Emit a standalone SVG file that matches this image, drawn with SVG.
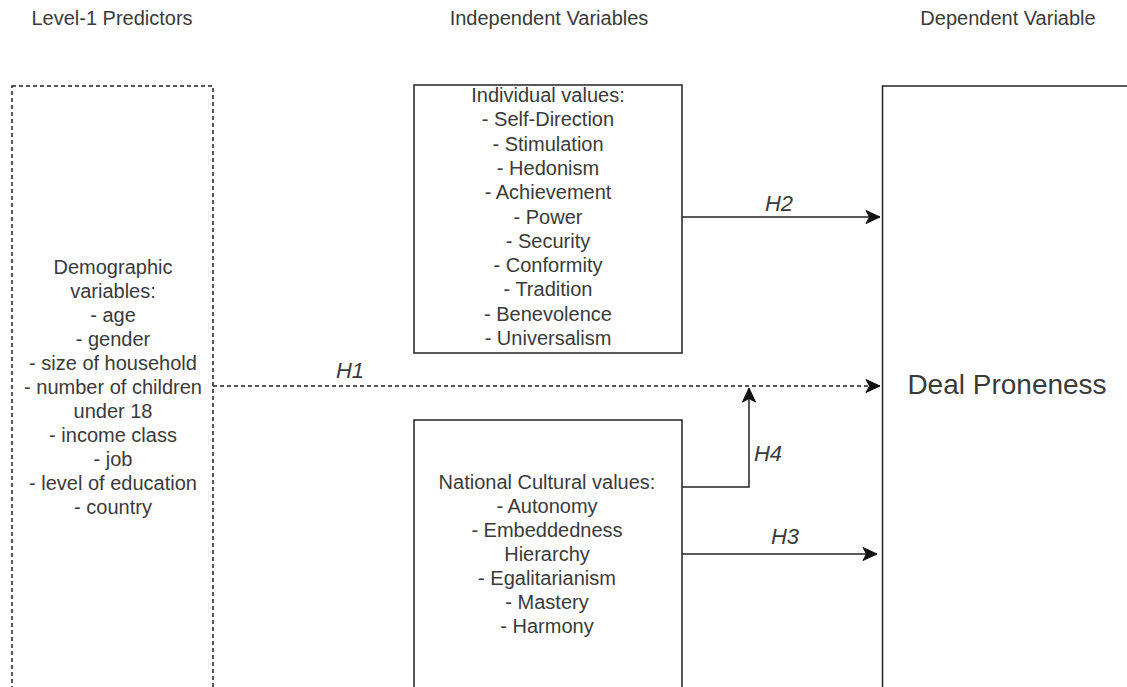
<svg xmlns="http://www.w3.org/2000/svg" width="1127" height="687" viewBox="0 0 1127 687">
  <style>
    .txt { font-family: "Liberation Sans", Arial, Helvetica, sans-serif; font-size: 20px; fill: #3a3a3a; text-anchor: middle; }
    .hyp { font-family: "Liberation Sans", Arial, Helvetica, sans-serif; font-size: 22px; font-style: italic; fill: #3a3a3a; text-anchor: middle; }
    .big { font-family: "Liberation Sans", Arial, Helvetica, sans-serif; font-size: 28px; fill: #3a3a3a; text-anchor: middle; }
    .box { fill: #ffffff; stroke: #222222; stroke-width: 1.5; }
    .dashbox { fill: #ffffff; stroke: #222222; stroke-width: 1.5; stroke-dasharray: 4 3; }
    .edge { fill: none; stroke: #222222; stroke-width: 1.5; }
    .dashed { stroke-dasharray: 4 3; }
  </style>
  <defs>
    <marker id="arrow" markerUnits="userSpaceOnUse" markerWidth="16" markerHeight="14" refX="15" refY="7" orient="auto" overflow="visible">
      <path d="M1,0.5 L15,7 L1,13.5 L4.5,7 Z" fill="#111111" stroke="#111111" stroke-width="1" stroke-linejoin="miter"/>
    </marker>
  </defs>

  <!-- column headings -->
  <g id="headings">
    <text class="txt" x="112" y="25">Level-1 Predictors</text>
    <text class="txt" x="549" y="25">Independent Variables</text>
    <text class="txt" x="1008" y="25">Dependent Variable</text>
  </g>

  <!-- level-1 predictors -->
  <g id="demographics">
    <rect class="dashbox" x="12" y="86" width="201" height="640"/>
    <text class="txt" x="113" y="274">Demographic</text>
    <text class="txt" x="113" y="298">variables:</text>
    <text class="txt" x="113" y="322">- age</text>
    <text class="txt" x="113" y="346">- gender</text>
    <text class="txt" x="113" y="370">- size of household</text>
    <text class="txt" x="113" y="394">- number of children</text>
    <text class="txt" x="113" y="418">under 18</text>
    <text class="txt" x="113" y="442">- income class</text>
    <text class="txt" x="113" y="466">- job</text>
    <text class="txt" x="113" y="490">- level of education</text>
    <text class="txt" x="113" y="514">- country</text>
  </g>

  <!-- individual values -->
  <g id="individual-values">
    <rect class="box" x="414" y="85" width="268" height="268"/>
    <text class="txt" x="548" y="102">Individual values:</text>
    <text class="txt" x="548" y="126.3">- Self-Direction</text>
    <text class="txt" x="548" y="150.6">- Stimulation</text>
    <text class="txt" x="548" y="174.9">- Hedonism</text>
    <text class="txt" x="548" y="199.2">- Achievement</text>
    <text class="txt" x="548" y="223.5">- Power</text>
    <text class="txt" x="548" y="247.8">- Security</text>
    <text class="txt" x="548" y="272.1">- Conformity</text>
    <text class="txt" x="548" y="296.4">- Tradition</text>
    <text class="txt" x="548" y="320.7">- Benevolence</text>
    <text class="txt" x="548" y="345">- Universalism</text>
  </g>

  <!-- national cultural values -->
  <g id="national-values">
    <rect class="box" x="414" y="420" width="268" height="300"/>
    <text class="txt" x="547" y="489">National Cultural values:</text>
    <text class="txt" x="547" y="513">- Autonomy</text>
    <text class="txt" x="547" y="537">- Embeddedness</text>
    <text class="txt" x="547" y="561">Hierarchy</text>
    <text class="txt" x="547" y="585">- Egalitarianism</text>
    <text class="txt" x="547" y="609">- Mastery</text>
    <text class="txt" x="547" y="633">- Harmony</text>
  </g>

  <!-- dependent variable -->
  <g id="deal-proneness">
    <rect class="box" x="882.5" y="86" width="300" height="640"/>
    <text class="big" x="1007" y="394">Deal Proneness</text>
  </g>

  <!-- hypotheses -->
  <g id="connectors">
    <path class="edge dashed" d="M213,386 H880" marker-end="url(#arrow)"/>
    <text class="hyp" x="350" y="378">H1</text>

    <path class="edge" d="M682,217 H880" marker-end="url(#arrow)"/>
    <text class="hyp" x="779" y="211">H2</text>

    <path class="edge" d="M682,554 H877" marker-end="url(#arrow)"/>
    <text class="hyp" x="785" y="544">H3</text>

    <path class="edge" d="M682,487 H749 V388" marker-end="url(#arrow)"/>
    <text class="hyp" x="768" y="461">H4</text>
  </g>
</svg>
